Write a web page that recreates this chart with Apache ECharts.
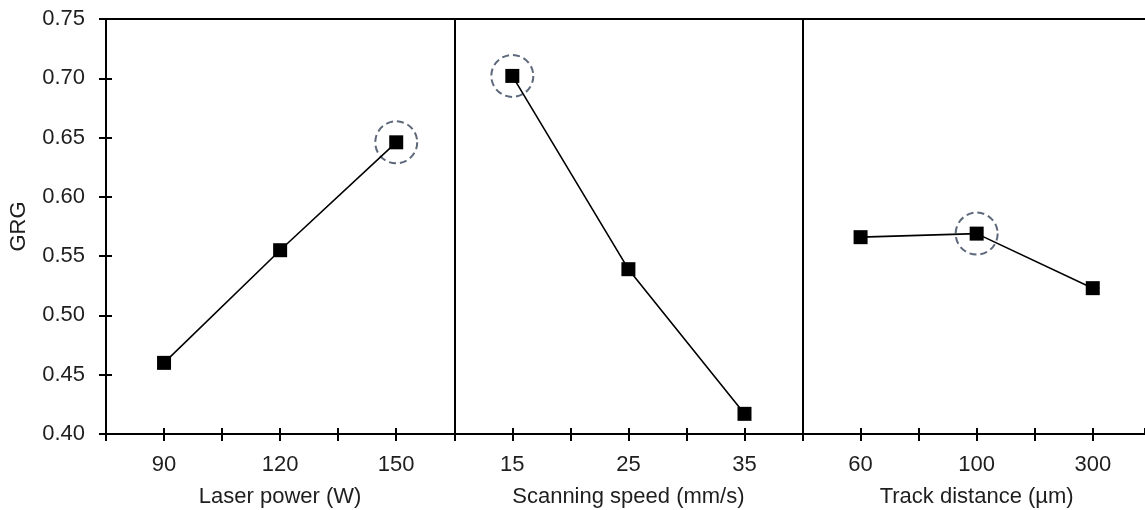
<!DOCTYPE html>
<html>
<head>
<meta charset="utf-8">
<script src="https://cdn.jsdelivr.net/npm/echarts@6/dist/echarts.min.js"></script>
<style>
  html, body { margin: 0; padding: 0; background: #fff; }
  #main { width: 1145px; height: 510px; }
</style>
</head>
<body>
<div id="main"></div>
<script>
// level labels, three per factor
const tickLabels = ['90', '120', '150', '15', '25', '35', '60', '100', '300'];
const factorNames = ['Laser power (W)', 'Scanning speed (mm/s)', 'Track distance (µm)'];
// mean GRG per level
const laserPowerGRG = [0.460, 0.555, 0.646];
const scanSpeedGRG = [0.702, 0.539, 0.417];
const trackDistGRG = [0.566, 0.569, 0.523];
// index of the optimal level for each factor (circled)
const optimalLevel = [2, 0, 1];

const factorData = [laserPowerGRG, scanSpeedGRG, trackDistGRG];
const textColor = '#1e1e1e';
const font = 'Liberation Sans';
const fontSize = 22;
const xMax = 17.9; // the picture is cut just before the end of the last panel

// each factor panel is 6 units wide, levels at 1, 3, 5
function pos(f, l) { return f * 6 + l * 2 + 1; }

var series = factorData.map(function (vals, f) {
  return {
    type: 'line',
    data: vals.map(function (v, l) { return [pos(f, l), v]; }),
    symbol: 'rect',
    symbolSize: 14,
    itemStyle: { color: '#000' },
    lineStyle: { color: '#000', width: 1.6 },
    silent: true
  };
});

// panel separators
series[0].markLine = {
  silent: true,
  symbol: 'none',
  label: { show: false },
  lineStyle: { color: '#000', width: 2, type: 'solid' },
  data: [{ xAxis: 6 }, { xAxis: 12 }]
};

// dashed circles round the optimal levels
series.push({
  type: 'scatter',
  data: optimalLevel.map(function (l, f) { return [pos(f, l), factorData[f][l]]; }),
  symbol: 'circle',
  symbolSize: 42,
  itemStyle: {
    color: 'rgba(0,0,0,0)',
    borderColor: '#34425a',
    borderWidth: 2,
    borderType: [7, 4]
  },
  silent: true,
  z: 1
});

var myChart = echarts.init(document.getElementById('main'));
var option = {
  animation: false,
  grid: {
    left: 105,
    right: 0,
    top: 19,
    bottom: 76,
    show: false
  },
  xAxis: [
    {
      type: 'value',
      min: 0,
      max: xMax,
      interval: 1,
      axisLine: { lineStyle: { color: '#000', width: 2 } },
      axisTick: { show: true, length: 7, lineStyle: { color: '#000', width: 2 } },
      splitLine: { show: false },
      axisLabel: {
        color: textColor,
        fontFamily: font,
        fontSize: fontSize,
        margin: 20,
        showMaxLabel: false,
        formatter: function (v) {
          return v % 2 === 1 ? tickLabels[(v - 1) / 2] : '';
        }
      }
    },
    {
      // inner half of the crossing ticks
      type: 'value',
      min: 0,
      max: xMax,
      interval: 1,
      position: 'bottom',
      axisLine: { show: false },
      axisTick: { show: true, inside: true, length: 6, lineStyle: { color: '#000', width: 2 } },
      axisLabel: { show: false },
      splitLine: { show: false }
    },
    {
      // top frame line
      type: 'value',
      min: 0,
      max: xMax,
      position: 'top',
      axisLine: { show: true, lineStyle: { color: '#000', width: 2 } },
      axisTick: { show: false },
      axisLabel: { show: false },
      splitLine: { show: false }
    }
  ],
  yAxis: [
    {
      type: 'value',
      min: 0.40,
      max: 0.75,
      interval: 0.05,
      name: 'GRG',
      nameLocation: 'middle',
      nameGap: 76,
      nameTextStyle: { color: textColor, fontFamily: font, fontSize: fontSize },
      axisLine: { show: true, lineStyle: { color: '#000', width: 2 } },
      axisTick: { show: true, length: 7, lineStyle: { color: '#000', width: 2 } },
      splitLine: { show: false },
      axisLabel: {
        color: textColor,
        fontFamily: font,
        fontSize: fontSize,
        margin: 21,
        formatter: function (v) { return v.toFixed(2); }
      }
    },
    {
      type: 'value',
      min: 0.40,
      max: 0.75,
      interval: 0.05,
      position: 'left',
      axisLine: { show: false },
      axisTick: { show: true, inside: true, length: 6, lineStyle: { color: '#000', width: 2 } },
      axisLabel: { show: false },
      splitLine: { show: false }
    }
  ],
  series: series
};
myChart.setOption(option);

// factor names centred under each panel, placed with the axis scale
myChart.setOption({
  graphic: factorNames.map(function (name, f) {
    var p = myChart.convertToPixel({ xAxisIndex: 0, yAxisIndex: 0 }, [f * 6 + 3, 0.40]);
    return {
      type: 'text',
      x: p[0],
      y: p[1] + 63,
      style: {
        text: name,
        fill: textColor,
        font: fontSize + 'px "Liberation Sans"',
        align: 'center',
        verticalAlign: 'middle'
      },
      silent: true
    };
  })
});
</script>
</body>
</html>
